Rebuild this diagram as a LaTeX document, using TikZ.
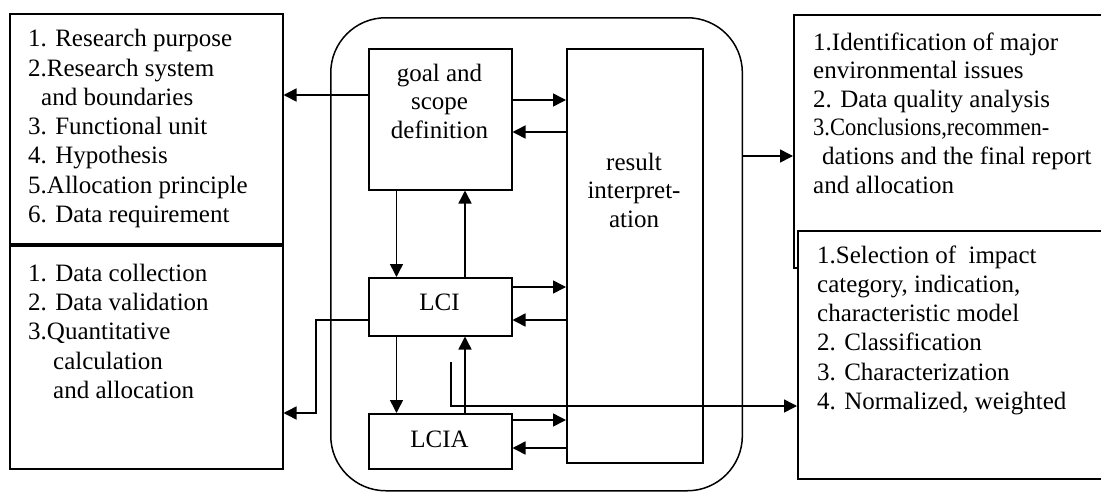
\documentclass[tikz,border=0pt]{standalone}
\usepackage{fontspec}
\setmainfont{Liberation Serif}
\usetikzlibrary{arrows.meta}
\begin{document}
\begin{tikzpicture}[x=1pt,y=-1pt,
  box/.style={draw, line width=1.5pt, inner sep=0pt, anchor=north west, fill=white},
  txt/.style={font=\fontsize{25}{29.3}\selectfont, inner sep=0pt, align=left, anchor=base west},
  rtxt/.style={font=\fontsize{25}{28.6}\selectfont, inner sep=0pt, align=left, anchor=base west},
  ctxt/.style={font=\fontsize{25}{28.3}\selectfont, inner sep=0pt, align=center, anchor=base},
  conn/.style={line width=1.5pt, -{Triangle[length=13pt,width=13pt]}}]
\useasboundingbox (0,0) rectangle (1101,493);
% container
\node[draw, line width=1.5pt, rounded corners=55pt, minimum width=411.6pt, minimum height=473pt, anchor=north west, inner sep=0pt] (cont) at (330,17) {};
% left boxes
\node[box, minimum width=273pt, minimum height=230pt] (lt) at (9,13) {};
\node[box, minimum width=273pt, minimum height=223pt] (lb) at (9,245) {};
% right boxes
\node[box, minimum width=320pt, minimum height=253pt] (rt) at (793,14) {};
\node[box, minimum width=320pt, minimum height=248pt] (rb) at (797,230) {};
% central boxes
\node[box, minimum width=143pt, minimum height=141pt] (goal) at (368,48) {};
\node[box, minimum width=136pt, minimum height=414pt] (res) at (566,48) {};
\node[box, minimum width=143pt, minimum height=58pt] (lci) at (368,277) {};
\node[box, minimum width=143pt, minimum height=55pt] (lcia) at (368,413) {};
% texts (anchored at the baseline of their last line)
\node[txt] (ltt) at (28,222.5) {1. Research purpose\\2.Research system\\\hspace*{13pt}and boundaries\\3. Functional unit\\4. Hypothesis\\5.Allocation principle\\6. Data requirement};
\node[txt] (lbt) at (28,398.5) {1. Data collection\\2. Data validation\\3.Quantitative\\\hspace*{25pt}calculation\\\hspace*{25pt}and allocation};
\node[rtxt] (rtt) at (813,193) {1.Identification of major\\environmental issues\\2. Data quality analysis\\\scalebox{0.9}[1]{3.Conclusions,recommen-}\\\hspace*{9pt}dations and the final report\\and allocation};
\node[txt] (rbt) at (817,409.5) {1.Selection of\ \ impact\\category, indication,\\characteristic model\\2. Classification\\3. Characterization\\4. Normalized, weighted};
\node[ctxt] (goalt) at (439.5,138) {goal and\\scope\\definition};
\node[ctxt] (rest) at (634,227) {result\\interpret-\\ation};
\node[ctxt] (lcit) at (439.5,310) {LCI};
\node[ctxt] (lciat) at (439.5,447) {LCIA};
% level coordinates
\coordinate (y95) at (0,95);
\coordinate (y100) at (0,100);
\coordinate (y132) at (0,132);
\coordinate (y156) at (0,156);
\coordinate (y287) at (0,287);
\coordinate (y320) at (0,320);
\coordinate (y420) at (0,420);
\coordinate (y448) at (0,448);
\coordinate (x396) at (396.5,0);
\coordinate (x465) at (465,0);
\coordinate (bendA) at (316,320);
\coordinate (bendB) at (316,413);
\coordinate (hookTop) at (451,362);
\coordinate (hookBend) at (451,406);
% connectors
\draw[conn] (goal.west |- y95) -- (lt.east |- y95);
\draw[conn] (goal.east |- y100) -- (res.west |- y100);
\draw[conn] (res.west |- y132) -- (goal.east |- y132);
\draw[conn] (goal.south -| x396) -- (lci.north -| x396);
\draw[conn] (lci.north -| x465) -- (goal.south -| x465);
\draw[conn] (lci.east |- y287) -- (res.west |- y287);
\draw[conn] (res.west |- y320) -- (lci.east |- y320);
\draw[conn] (lci.west |- y320) -- (bendA) -- (bendB) -- (lb.east |- bendB);
\draw[conn] (lci.south -| x396) -- (lcia.north -| x396);
\draw[conn] (lcia.north -| x465) -- (lci.south -| x465);
\draw[conn] (lcia.east |- y420) -- (res.west |- y420);
\draw[conn] (res.west |- y448) -- (lcia.east |- y448);
\draw[conn] (hookTop) -- (hookBend) -- (rb.west |- hookBend);
\draw[conn] (cont.east |- y156) -- (rt.west |- y156);
\end{tikzpicture}
\end{document}
